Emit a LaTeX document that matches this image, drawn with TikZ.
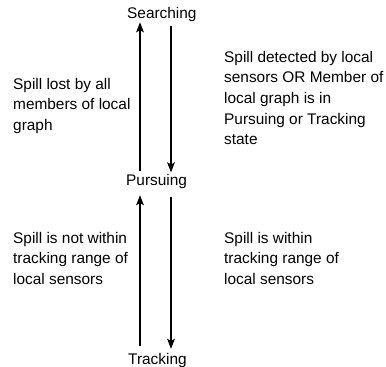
\documentclass[tikz,border=0pt]{standalone}
\usepackage{fontspec}
\setmainfont{Liberation Sans}
\usetikzlibrary{arrows.meta}
\tikzset{
  statelabel/.style={inner sep=0pt, anchor=base west, font=\fontsize{15.4}{20.7}\selectfont},
  % multi-line notes: the base anchor sits on the last line
  note/.style={inner sep=0pt, anchor=base west, align=left, font=\fontsize{15.4}{20.7}\selectfont},
  trans/.style={line width=1.9pt, -{Stealth[length=10pt,width=7.5pt,inset=2pt]}},
}
\begin{document}
\begin{tikzpicture}[x=1pt,y=-1pt]
  \useasboundingbox (0,0) rectangle (386,367);
  % states
  \node[statelabel] (searching) at (127,18) {Searching};
  \node[statelabel] (pursuing) at (126,185) {Pursuing};
  \node[statelabel] (tracking) at (128,364) {Tracking};
  % transition notes
  \node[note] (lost) at (13,130.4) {Spill lost by all\\members of local\\graph};
  \node[note] (detected) at (224,144.8) {Spill detected by local\\sensors OR Member of\\local graph is in\\Pursuing or Tracking\\state};
  \node[note] (notwithin) at (13,284.4) {Spill is not within\\tracking range of\\local sensors};
  \node[note] (within) at (224,284.4) {Spill is within\\tracking range of\\local sensors};
  % transitions
  \draw[trans] ([yshift=2.2pt]pursuing.north -| 140,0) -- ([yshift=-0.8pt]searching.south -| 140,0);
  \draw[trans] ([yshift=-4.7pt]searching.south -| 171,0) -- ([yshift=1.2pt]pursuing.north -| 171,0);
  \draw[trans] ([yshift=6.7pt]tracking.north -| 140,0) -- ([yshift=-6.7pt]pursuing.south -| 140,0);
  \draw[trans] ([yshift=-8.7pt]pursuing.south -| 171,0) -- ([yshift=3.7pt]tracking.north -| 171,0);
\end{tikzpicture}
\end{document}
